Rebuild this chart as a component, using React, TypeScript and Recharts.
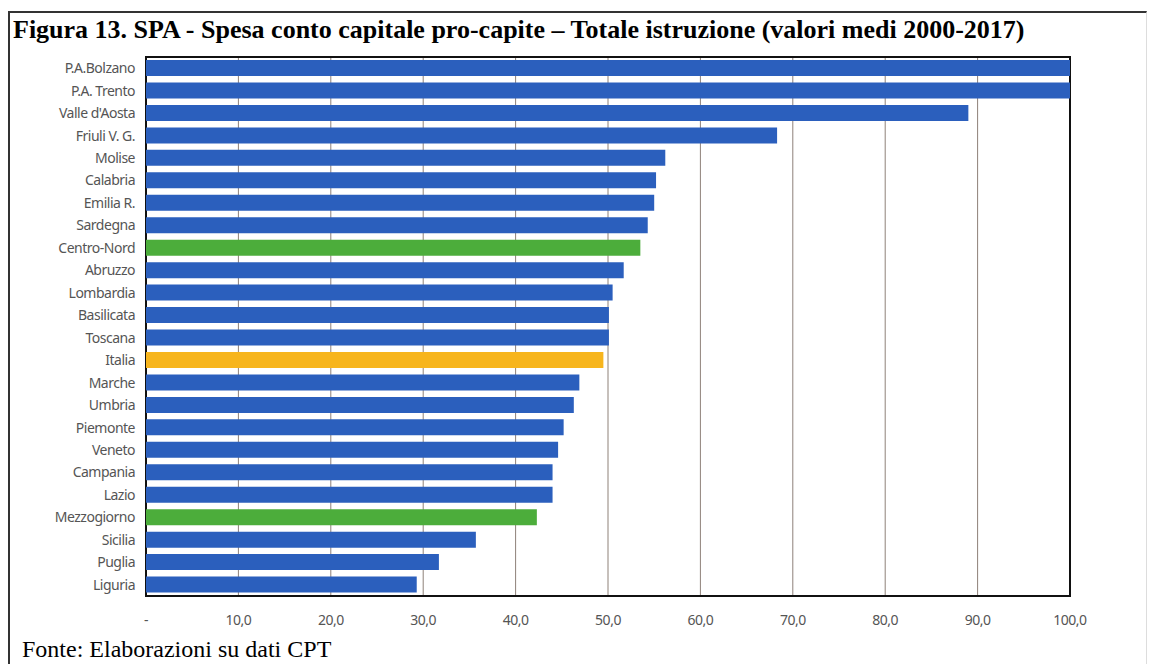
import { BarChart, Bar, XAxis, YAxis, CartesianGrid, ReferenceArea, Cell } from "recharts";

const regions = [
  "P.A.Bolzano",
  "P.A. Trento",
  "Valle d'Aosta",
  "Friuli V. G.",
  "Molise",
  "Calabria",
  "Emilia R.",
  "Sardegna",
  "Centro-Nord",
  "Abruzzo",
  "Lombardia",
  "Basilicata",
  "Toscana",
  "Italia",
  "Marche",
  "Umbria",
  "Piemonte",
  "Veneto",
  "Campania",
  "Lazio",
  "Mezzogiorno",
  "Sicilia",
  "Puglia",
  "Liguria",
];

// Bolzano and Trento run past the 100 limit of the axis, so they are clipped
const spesa = [
  118, 110, 89.0, 68.3, 56.2, 55.2, 55.0, 54.3, 53.5, 51.7, 50.5, 50.1, 50.1, 49.5,
  46.9, 46.3, 45.2, 44.6, 44.0, 44.0, 42.3, 35.7, 31.7, 29.3,
];

const macroAree = ["Centro-Nord", "Mezzogiorno"];
const totale = "Italia";

const xTicks = [0, 10, 20, 30, 40, 50, 60, 70, 80, 90, 100];

const data = regions.map((name, i) => ({ name, value: spesa[i] }));

const BLUE = "#2b5fbd";
const GREEN = "#4cad3b";
const GOLD = "#f7b51d";

const barColor = (name: string) =>
  macroAree.includes(name) ? GREEN : name === totale ? GOLD : BLUE;

const fmt = (v: number) => (v === 0 ? "-" : v.toFixed(1).replace(".", ","));

const tickFont = { fill: "#555", fontSize: 14, fontFamily: "'Noto Sans', sans-serif", letterSpacing: -0.5 };

export default function App() {
  return (
    <div
      style={{
        position: "fixed",
        left: 0,
        top: 0,
        width: 1156,
        height: 664,
        background: "#fff",
        overflow: "hidden",
      }}
    >
      <div
        style={{
          position: "absolute",
          left: 8,
          top: 11,
          width: 1136,
          height: 700,
          borderTop: "2px solid #333",
          borderLeft: "2px solid #333",
          borderRight: "1px solid #ddd",
        }}
      />
      <div
        style={{
          position: "absolute",
          left: 13,
          top: 15,
          fontFamily: "'Liberation Serif', serif",
          fontWeight: "bold",
          fontSize: 26,
          color: "#000",
          whiteSpace: "nowrap",
        }}
      >
        Figura 13. SPA - Spesa conto capitale pro-capite – Totale istruzione (valori medi 2000-2017)
      </div>
      <div style={{ position: "absolute", left: 0, top: 0 }}>
        <BarChart
          width={1156}
          height={664}
          data={data}
          layout="vertical"
          barSize={16}
          margin={{ top: 57, right: 86, bottom: 38, left: 0 }}
        >
          <CartesianGrid horizontal={false} stroke="#8e8179" strokeWidth={1} />
          <XAxis
            type="number"
            domain={[0, 100]}
            ticks={xTicks}
            allowDataOverflow
            tickFormatter={fmt}
            axisLine={false}
            tickLine={false}
            tickMargin={13}
            height={30}
            tick={tickFont}
          />
          <YAxis
            type="category"
            dataKey="name"
            width={146}
            axisLine={false}
            tickLine={false}
            tickSize={0}
            tickMargin={11}
            interval={0}
            tick={tickFont}
          />
          <Bar dataKey="value" isAnimationActive={false}>
            {data.map((d) => (
              <Cell key={d.name} fill={barColor(d.name)} />
            ))}
          </Bar>
          <ReferenceArea x1={0} x2={100} fill="none" stroke="#111" strokeWidth={2} ifOverflow="visible" />
        </BarChart>
      </div>
      <div
        style={{
          position: "absolute",
          left: 22,
          top: 636,
          fontFamily: "'Liberation Serif', serif",
          fontSize: 24,
          color: "#000",
          whiteSpace: "nowrap",
        }}
      >
        Fonte: Elaborazioni su dati CPT
      </div>
    </div>
  );
}
